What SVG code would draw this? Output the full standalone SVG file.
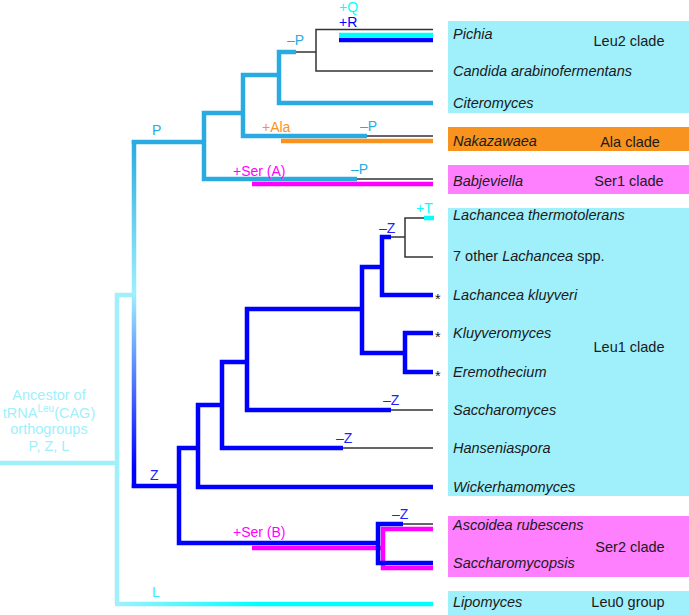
<svg xmlns="http://www.w3.org/2000/svg" width="689" height="615" viewBox="0 0 689 615">
<style>
text{font-family:"Liberation Sans",Arial,sans-serif;font-size:14.5px}
.sp{font-style:italic;fill:#1a1a1a}
.cl{fill:#1a1a1a;text-anchor:middle}
.lb{font-size:14px}
.th{fill:none;stroke-width:4.5;stroke-linejoin:miter;stroke-linecap:butt}
.tn{fill:none;stroke:#333;stroke-width:1.5}
.lt{stroke:#29abe2}
.bl{stroke:#0000ff}
.pc{stroke:#a0f0fc}
.cy{stroke:#00ffff}
.mg{stroke:#ff00ff}
.or{stroke:#f7931e}
</style>
<defs>
<linearGradient id="gPZ" gradientUnits="userSpaceOnUse" x1="0" y1="142" x2="0" y2="486">
<stop offset="0" stop-color="#29abe2"/>
<stop offset="0.44" stop-color="#a0f0fc"/>
<stop offset="0.95" stop-color="#0000ff"/>
</linearGradient>
<linearGradient id="gL" gradientUnits="userSpaceOnUse" x1="117" y1="0" x2="260" y2="0">
<stop offset="0" stop-color="#a0f0fc"/>
<stop offset="1" stop-color="#00ffff"/>
</linearGradient>
</defs>

<g id="boxes">
<rect x="448" y="21" width="241" height="92" fill="#a0f0fc"/>
<rect x="448" y="127" width="241" height="24" fill="#f7931e"/>
<rect x="448" y="165" width="241" height="29" fill="#ff80ff"/>
<rect x="448" y="208" width="241" height="288" fill="#a0f0fc"/>
<rect x="448" y="516" width="241" height="61" fill="#ff80ff"/>
<rect x="448" y="591" width="241" height="24" fill="#a0f0fc"/>
</g>

<g id="connectors">
<path class="th pc" d="M0,463 H117 M134,295 H117 V604"/>
<path class="th" stroke="url(#gL)" d="M115,604 H433"/>
<path class="th" stroke="url(#gPZ)" d="M134,140 V488"/>
<path class="th lt" d="M131.8,142 H204"/>
<path class="th lt" d="M243,113 H204 V179 H357"/>
<path class="th lt" d="M279,75 H243 V136 H367"/>
<path class="th lt" d="M296,52 H279 V103 H433"/>
<path class="tn" d="M296,52 H316 M433,29.5 H316 V71 H433 M367,136 H433 M357,179 H433"/>
<path class="th or" d="M281,141 H433"/>
<path class="th mg" d="M252,184 H433"/>
<path class="th cy" d="M339,35 H433"/>
<path class="th bl" d="M339,40 H433"/>

<path class="th bl" d="M131.8,486 H179"/>
<path class="th bl" d="M198,448 H179 V543 H378"/>
<path class="th bl" d="M222,405 H198 V487 H433"/>
<path class="th bl" d="M247,362 H222 V448 H343"/>
<path class="th bl" d="M362,309 H247 V410 H391"/>
<path class="th bl" d="M382,267 H362 V353 H405"/>
<path class="th bl" d="M391,237 H382 V295 H433"/>
<path class="th bl" d="M433,333 H405 V372 H433"/>
<path class="tn" d="M391,237 H405 M424,218 H405 V257 H433 M343,448 H433 M391,410 H433 M403,524 H433"/>
<path class="th cy" d="M424,218 H434"/>
<path class="th mg" d="M252,548 H383 M433,529 H383 V568 H433"/>
<path class="th bl" d="M403,524 H378 V563 H433"/>
</g>

<g id="branch-labels">
<text class="lb" x="339" y="12" fill="#00ffff" font-size="13">+Q</text>
<text class="lb" x="339" y="26.5" fill="#0000ff" font-size="13">+R</text>
<text class="lb" x="287" y="45" fill="#29abe2">–P</text>
<text class="lb" x="152" y="135" fill="#29abe2">P</text>
<text class="lb" x="262" y="132" fill="#f7931e">+Ala</text>
<text class="lb" x="360" y="131" fill="#29abe2">–P</text>
<text class="lb" x="233" y="176" fill="#ff00ff">+Ser (A)</text>
<text class="lb" x="351" y="174" fill="#29abe2">–P</text>
<text class="lb" x="416" y="213" fill="#00ffff">+T</text>
<text class="lb" x="379" y="233" fill="#2020ff">–Z</text>
<text class="lb" x="383" y="405" fill="#2020ff">–Z</text>
<text class="lb" x="336" y="443" fill="#2020ff">–Z</text>
<text class="lb" x="150" y="480" fill="#2020ff">Z</text>
<text class="lb" x="233" y="537" fill="#ff00ff">+Ser (B)</text>
<text class="lb" x="392" y="519" fill="#2020ff">–Z</text>
<text class="lb" x="152" y="597" fill="#33f0ff">L</text>
</g>

<g id="root-label" fill="#a0f0fc" text-anchor="middle">
<text x="49" y="400">Ancestor of</text>
<text x="49" y="418">tRNA<tspan font-size="10" dy="-6">Leu</tspan><tspan dy="6">(CAG)</tspan></text>
<text x="49" y="434">orthogroups</text>
<text x="49" y="451">P, Z, L</text>
</g>

<g id="asterisks" fill="#1a1a1a" font-size="14">
<text x="435" y="304">*</text>
<text x="435" y="342">*</text>
<text x="435" y="381">*</text>
</g>

<g id="leu2-clade">
<text class="sp" x="453" y="39">Pichia</text>
<text class="sp" x="453" y="76">Candida arabinofermentans</text>
<text class="sp" x="453" y="108">Citeromyces</text>
<text class="cl" x="629" y="46">Leu2 clade</text>
</g>
<g id="ala-clade">
<text class="sp" x="453" y="146">Nakazawaea</text>
<text class="cl" x="630" y="147">Ala clade</text>
</g>
<g id="ser1-clade">
<text class="sp" x="453" y="186">Babjeviella</text>
<text class="cl" x="629" y="186">Ser1 clade</text>
</g>
<g id="leu1-clade">
<text class="sp" x="453" y="220">Lachancea thermotolerans</text>
<text x="453" y="261" fill="#1a1a1a">7 other <tspan font-style="italic">Lachancea</tspan> spp.</text>
<text class="sp" x="453" y="300">Lachancea kluyveri</text>
<text class="sp" x="453" y="338">Kluyveromyces</text>
<text class="sp" x="453" y="377">Eremothecium</text>
<text class="sp" x="453" y="415">Saccharomyces</text>
<text class="sp" x="453" y="453">Hanseniaspora</text>
<text class="sp" x="453" y="492">Wickerhamomyces</text>
<text class="cl" x="629" y="352">Leu1 clade</text>
</g>
<g id="ser2-clade">
<text class="sp" x="453" y="530">Ascoidea rubescens</text>
<text class="sp" x="453" y="568">Saccharomycopsis</text>
<text class="cl" x="630" y="552">Ser2 clade</text>
</g>
<g id="leu0-group">
<text class="sp" x="453" y="607">Lipomyces</text>
<text class="cl" x="628" y="607">Leu0 group</text>
</g>
</svg>
